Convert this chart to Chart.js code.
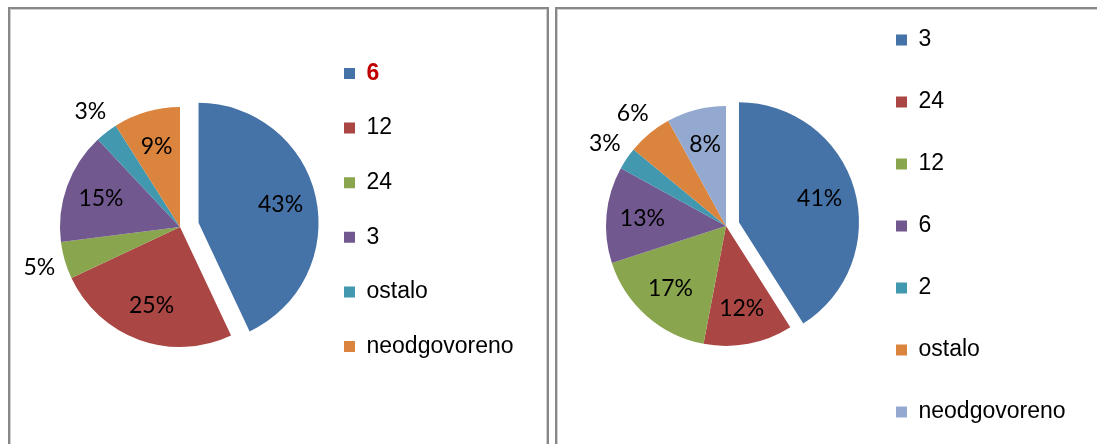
<!DOCTYPE html>
<html>
<head>
<meta charset="utf-8">
<title>Pie charts</title>
<script src="https://cdn.jsdelivr.net/npm/chart.js@4.4.1/dist/chart.umd.min.js"></script>
<style>
  html, body { margin: 0; padding: 0; background: #fff; overflow: hidden; width: 1097px; height: 444px; }
  .panel { position: absolute; box-sizing: border-box; border: 2px solid #888; box-shadow: inset 0 0 0 1px #cfcfcf; }
  #panelLeft { left: 8px; top: 7px; width: 541px; height: 480px; }
  #panelRight { left: 555px; top: 7px; width: 600px; height: 480px; }
  canvas { position: absolute; }
  #chartLeft { left: 0; top: 0; }
  #chartRight { left: 555px; top: -24px; }
</style>
</head>
<body>
<div class="panel" id="panelLeft"></div>
<div class="panel" id="panelRight"></div>
<canvas id="chartLeft" width="549" height="444"></canvas>
<canvas id="chartRight" width="542" height="500"></canvas>
<script>
// left chart
var leftCategories = ['6', '12', '24', '3', 'ostalo', 'neodgovoreno'];
var leftValues = [43, 25, 5, 15, 3, 9];
// right chart
var rightCategories = ['3', '24', '12', '6', '2', 'ostalo', 'neodgovoreno'];
var rightValues = [41, 12, 17, 13, 3, 6, 8];

var palette = ['#4572A7', '#AA4643', '#89A54E', '#71588F', '#4198AF', '#DB843D', '#93A9CF'];

var legendFamily = '"Liberation Sans", Arial, sans-serif';
var legendSize = 23;
var legendBox = 11;

// pulls one slice out of the pie, keeping its radius (Excel style explode)
const explodePlugin = {
    id: 'explode',
    beforeDatasetsDraw(chart, args, opts) {
        const ca = chart.chartArea;
        const cx = (ca.left + ca.right) / 2;
        const cy = (ca.top + ca.bottom) / 2;
        const arc = chart.getDatasetMeta(0).data[opts.index];
        if (!arc) return;
        const mid = (arc.startAngle + arc.endAngle) / 2;
        arc.x = cx + Math.cos(mid) * opts.distance;
        arc.y = cy + Math.sin(mid) * opts.distance;
    }
};

// percentage labels, small slices go outside
const percentPlugin = {
    id: 'percentLabels',
    afterDatasetsDraw(chart) {
        const ctx = chart.ctx;
        const values = chart.data.datasets[0].data;
        ctx.save();
        ctx.font = '23px Lato';
        ctx.fillStyle = '#000';
        ctx.textAlign = 'center';
        ctx.textBaseline = 'middle';
        chart.getDatasetMeta(0).data.forEach(function (arc, i) {
            const mid = (arc.startAngle + arc.endAngle) / 2;
            const r = values[i] < 7 ? arc.outerRadius * 1.22 : arc.outerRadius * 0.7;
            ctx.fillText(values[i] + '%', arc.x + Math.cos(mid) * r, arc.y + Math.sin(mid) * r);
        });
        ctx.restore();
    }
};

// bold red legend entry
const highlightPlugin = {
    id: 'highlight',
    afterDraw(chart, args, opts) {
        if (opts.index === undefined || opts.index < 0) return;
        const hb = chart.legend.legendHitBoxes[opts.index];
        const ctx = chart.ctx;
        ctx.save();
        ctx.font = 'bold ' + legendSize + 'px ' + legendFamily;
        ctx.fillStyle = opts.color;
        ctx.textAlign = 'left';
        ctx.textBaseline = 'middle';
        ctx.fillText(chart.data.labels[opts.index], hb.left + legendBox + legendSize / 2, hb.top + legendSize / 2);
        ctx.restore();
    }
};

// natural width of a right side legend, so it can be placed exactly
function legendWidth(categories, pad) {
    const m = document.createElement('canvas').getContext('2d');
    m.font = legendSize + 'px ' + legendFamily;
    let w = 0;
    categories.forEach(function (c) { w = Math.max(w, m.measureText(c).width); });
    return pad + legendBox + legendSize / 2 + w + 10;
}

function makePie(canvasId, categories, values, setup) {
    const canvas = document.getElementById(canvasId);
    const ctx = canvas.getContext('2d');
    const baseLabels = Chart.overrides.doughnut.plugins.legend.labels.generateLabels;
    // legend left edge = box x - padding, pie centre in the middle of what is left
    const legLeft = setup.boxX - setup.legendPadding;
    const padLeft = 2 * setup.centerX - legLeft;
    const padRight = canvas.width - legLeft - legendWidth(categories, setup.legendPadding);
    return new Chart(ctx, {
        type: 'pie',
        data: {
            labels: categories,
            datasets: [{
                data: values,
                backgroundColor: palette.slice(0, values.length),
                borderWidth: 0,
                hoverOffset: 0
            }]
        },
        plugins: [explodePlugin, percentPlugin, highlightPlugin],
        options: {
            responsive: false,
            devicePixelRatio: 1,
            animation: false,
            radius: 120,
            layout: { padding: { left: padLeft, right: padRight, top: setup.top, bottom: setup.bottom } },
            events: [],
            plugins: {
                tooltip: { enabled: false },
                explode: { index: 0, distance: setup.explode },
                highlight: { index: setup.highlight, color: '#C00000' },
                legend: {
                    position: 'right',
                    align: setup.align,
                    labels: {
                        font: { family: legendFamily, size: legendSize },
                        color: '#000',
                        boxWidth: legendBox,
                        boxHeight: legendBox,
                        padding: setup.legendPadding,
                        generateLabels: function (chart) {
                            const items = baseLabels(chart);
                            if (setup.highlight >= 0) {
                                items[setup.highlight].fontColor = 'rgba(0,0,0,0)';
                            }
                            return items;
                        }
                    }
                }
            }
        }
    });
}

document.addEventListener('DOMContentLoaded', function () {
    makePie('chartLeft', leftCategories, leftValues, {
        centerX: 180, boxX: 344,
        top: 30.4, bottom: 20.4,
        legendPadding: 31.6,
        align: 'start',
        explode: 19,
        highlight: 0
    });
    makePie('chartRight', rightCategories, rightValues, {
        centerX: 171, boxX: 341,
        top: 0, bottom: 0,
        legendPadding: 39,
        align: 'center',
        explode: 13.5,
        highlight: -1
    });
});
</script>
</body>
</html>
